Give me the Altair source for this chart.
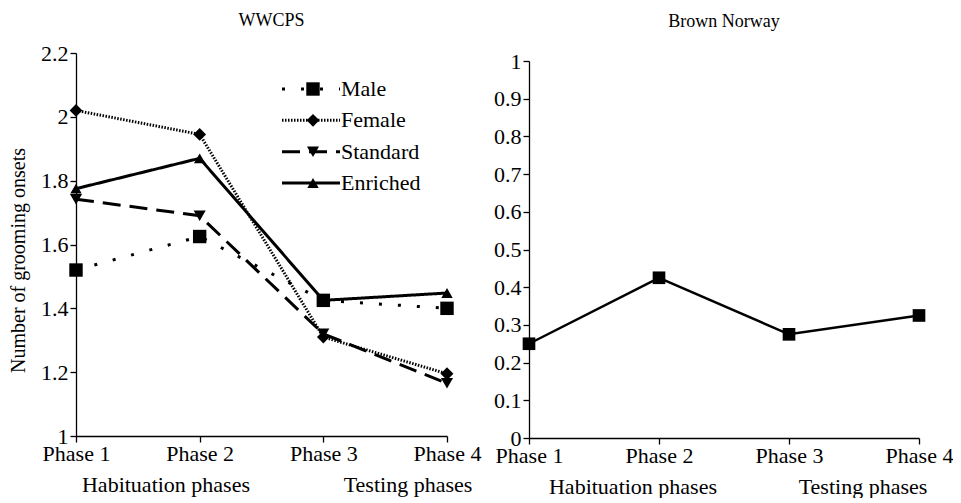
import altair as alt
import pandas as pd

phases = ["Phase 1", "Phase 2", "Phase 3", "Phase 4"]
series = ["Male", "Female", "Standard", "Enriched"]
male = [1.52, 1.625, 1.425, 1.40]
female = [2.02, 1.945, 1.31, 1.195]
standard = [1.742, 1.69, 1.32, 1.165]
enriched = [1.775, 1.87, 1.425, 1.448]
brown_norway = [0.25, 0.425, 0.275, 0.325]
left_ticks = [1, 1.2, 1.4, 1.6, 1.8, 2, 2.2]
right_ticks = [0, 0.1, 0.2, 0.3, 0.4, 0.5, 0.6, 0.7, 0.8, 0.9, 1]
group_labels = ["Habituation phases", "Testing phases"]

FONT = "Liberation Serif, Times New Roman, serif"

left_df = pd.DataFrame({
    "phase": phases * 4,
    "series": [s for s in series for _ in phases],
    "value": male + female + standard + enriched,
})
right_df = pd.DataFrame({"phase": phases, "value": brown_norway})
legend_df = pd.DataFrame({"series": series})

dash = alt.StrokeDash("series:N", scale=alt.Scale(domain=series, range=[[3, 16], [1.5, 1.5], [18, 9], [1, 0]]), legend=None)
swidth = alt.StrokeWidth("series:N", scale=alt.Scale(domain=series, range=[3, 3, 2.5, 2]), legend=None)
shape = alt.Shape("series:N", scale=alt.Scale(domain=series, range=["square", "diamond", "triangle-down", "triangle-up"]), legend=None)
size = alt.Size("series:N", scale=alt.Scale(domain=series, range=[180, 130, 140, 140]), legend=None)

xenc = alt.X("phase:N", sort=phases, scale=alt.Scale(padding=0),
             axis=alt.Axis(title=None, labelAngle=0, labelPadding=1))

yl = alt.Y("value:Q", scale=alt.Scale(domain=[1, 2.2], zero=False, nice=False),
           axis=alt.Axis(values=left_ticks, format="~g", title="Number of grooming onsets",
                         titlePadding=12, labelPadding=2, titleY=207, titleFontSize=20))

LW, LH = 371, 383
RW, RH = 390, 385

l_lines = alt.Chart(left_df).mark_line(color="black").encode(x=xenc, y=yl, strokeDash=dash, strokeWidth=swidth, detail="series:N")
l_points = alt.Chart(left_df).mark_point(filled=True, color="black", opacity=1).encode(x=xenc, y=yl, shape=shape, size=size)
main_left = alt.layer(l_lines, l_points)

ly = alt.Y("series:N", sort=series, scale=alt.Scale(type="point", domain=series, range=[36, 130], padding=0), axis=None)
leg_rule = alt.Chart(legend_df).mark_rule(color="black").encode(
    x=alt.value(206), x2=alt.value(264), y=ly, strokeDash=dash, strokeWidth=swidth)
leg_pt = alt.Chart(legend_df).mark_point(filled=True, color="black", opacity=1).encode(
    x=alt.value(237), y=ly, shape=shape, size=size)
leg_txt = alt.Chart(legend_df).mark_text(align="left", baseline="middle", font=FONT, fontSize=22, color="black").encode(
    x=alt.value(265), y=ly, text="series:N")
legend_layer = alt.layer(leg_rule, leg_pt, leg_txt)


def group_text(label, xpos, ypos):
    return alt.Chart(pd.DataFrame({"t": [label]})).mark_text(
        font=FONT, fontSize=22, color="black", baseline="middle", align="center"
    ).encode(text="t:N", x=alt.value(xpos), y=alt.value(ypos))


left = alt.layer(
    main_left, legend_layer,
    group_text(group_labels[0], 90, 432),
    group_text(group_labels[1], 332, 432),
).resolve_scale(y="independent").properties(
    width=LW, height=LH,
    title=alt.TitleParams("WWCPS", frame="group", offset=12, dx=10),
)

yr = alt.Y("value:Q", scale=alt.Scale(domain=[0, 1], nice=False, range=[RH, 8]),
           axis=alt.Axis(values=right_ticks, format="~g", title=None, labelPadding=2))
r_line = alt.Chart(right_df).mark_line(color="black", strokeWidth=2.5).encode(x=xenc, y=yr)
r_pts = alt.Chart(right_df).mark_point(filled=True, color="black", opacity=1, shape="square", size=160).encode(x=xenc, y=yr)
right = alt.layer(
    r_line, r_pts,
    group_text(group_labels[0], 104, 434),
    group_text(group_labels[1], 334, 434),
).properties(
    width=RW, height=RH,
    title=alt.TitleParams("Brown Norway", frame="group", offset=19),
)

chart = alt.hconcat(left, right, spacing=12).properties(
    padding={"left": 0, "top": 4, "right": 0, "bottom": 0}
).configure_axis(
    labelFont=FONT, labelFontSize=22, labelColor="black",
    titleFont=FONT, titleFontSize=21, titleFontWeight="normal", titleColor="black",
    domainColor="black", tickColor="black", grid=False, tickSize=6,
    domainWidth=1.3, tickWidth=1.3,
).configure_view(stroke=None).configure_title(
    font=FONT, fontSize=18, fontWeight="normal", color="black"
)

chart.save("out.html", embed_options={"renderer": "svg", "actions": False})
